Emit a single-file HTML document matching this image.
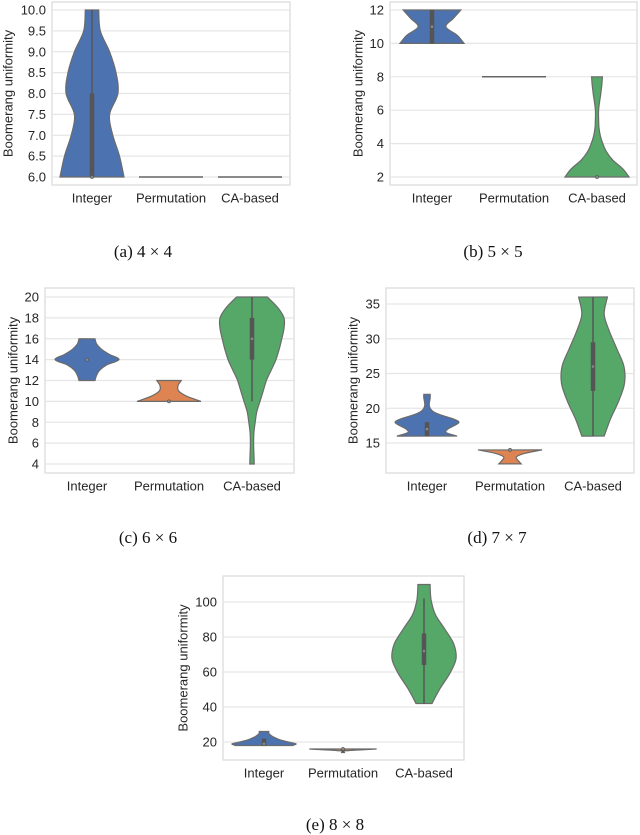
<!DOCTYPE html>
<html><head><meta charset="utf-8">
<style>
html,body{margin:0;padding:0;background:#fff;}
svg{display:block;font-family:"Liberation Sans",sans-serif;}
.cap{font-family:"Liberation Serif",serif;font-size:17px;fill:#111;}
</style></head>
<body>
<svg id="fig" width="640" height="835" viewBox="0 0 640 835"></svg>
<script>
// ---- data ----
const categories = ["Integer","Permutation","CA-based"];
const colors = ["#4c72b0","#dd8452","#55a868"];
// panel a (4x4)
const aTicks = [6.0,6.5,7.0,7.5,8.0,8.5,9.0,9.5,10.0];
const aRange = [[6,10],[6,6],[6,6]];
const aDens = [[1,.86,.65,.55,.81,.75,.55,.26,.21],[1],[1]];
const aBox = [[6,8,6,10,6],[6,6,6,6,6],[6,6,6,6,6]];
// panel b (5x5)
const bTicks = [2,4,6,8,10,12];
const bRange = [[10,12],[8,8],[2,8]];
const bDens = [[1,.78,.43,.67,.9],[1],[1,.8,.5,.3,.18,.1,.06,.05,.05,.08,.12,.15,.17]];
const bBox = [[10,12,10,12,11],[8,8,8,8,8],[2,2,2,2,2]];
// panel c (6x6)
const cTicks = [4,6,8,10,12,14,16,18,20];
const cRange = [[12,16],[10,12],[4,20]];
const cDens = [[.25,.3,.4,.62,1,.7,.45,.3,.25],[1,.55,.3,.28,.38],[.07,.06,.05,.06,.1,.15,.25,.35,.45,.6,.75,.85,.93,1,1,.8,.48]];
const cBox = [[14,14,14,14,14],[10,10,10,10,10],[14,18,10,20,16]];
// panel d (7x7)
const dTicks = [15,20,25,30,35];
const dRange = [[16,22],[12,14],[16,36]];
const dDens = [[.94,.6,.65,.85,1,.8,.45,.2,.1,.07,.08,.1,.1],[.35,.25,.2,.45,1],[.35,.55,.8,.98,.97,.75,.52,.35,.45]];
const dBox = [[16,18,16,18,17],[14,14,14,14,14],[22.5,29.5,16,36,26]];
// panel e (8x8)
const eTicks = [20,40,60,80,100];
const eRange = [[18,26],[14,16],[42,110]];
const eDens = [[.9,1,.75,.55,.4,.28,.2,.15,.15],[.05,.08,1.05],[.25,.5,.8,1,.93,.65,.35,.22,.19]];
const eBox = [[18,22,18,22,19],[15,16,14,16,16],[64,82,42,102,72]];

// ---- layout ----
const panels = [
 {id:"a",cap:"(a) 4 \u00d7 4",ticks:aTicks,range:aRange,dens:aDens,box:aBox,fx:[52,290],fy:[2,185],t0:177,t1:10,cx:[92,171,250],lab:198,titleX:8,capX:143,capY:257,dec:1},
 {id:"b",cap:"(b) 5 \u00d7 5",ticks:bTicks,range:bRange,dens:bDens,box:bBox,fx:[390,637],fy:[2,185],t0:177,t1:10,cx:[432,514,597],lab:198,titleX:358,capX:493,capY:257,dec:0},
 {id:"c",cap:"(c) 6 \u00d7 6",ticks:cTicks,range:cRange,dens:cDens,box:cBox,fx:[45,294],fy:[288,473],t0:464,t1:297,cx:[87,169,252],lab:486,titleX:13,capX:148,capY:543,dec:0},
 {id:"d",cap:"(d) 7 \u00d7 7",ticks:dTicks,range:dRange,dens:dDens,box:dBox,fx:[386,634],fy:[288,473],t0:443,t1:304,cx:[427,510,593],lab:486,titleX:353,capX:497,capY:543,dec:0},
 {id:"e",cap:"(e) 8 \u00d7 8",ticks:eTicks,range:eRange,dens:eDens,box:eBox,fx:[223,464],fy:[576,760],t0:742,t1:602,cx:[264,343,424],lab:773,titleX:183,capX:335,capY:830,dec:0}
];
const NS="http://www.w3.org/2000/svg";
const svg=document.getElementById("fig");
function mk(tag,attrs,parent){const e=document.createElementNS(NS,tag);for(const k in attrs)e.setAttribute(k,attrs[k]);(parent||svg).appendChild(e);return e;}
const HALF=32;

function smoothPath(pts){
  let d="";
  for(let i=0;i<pts.length-1;i++){
    const p0=pts[Math.max(i-1,0)],p1=pts[i],p2=pts[i+1],p3=pts[Math.min(i+2,pts.length-1)];
    const c1=[p1[0]+(p2[0]-p0[0])/6,p1[1]+(p2[1]-p0[1])/6];
    const c2=[p2[0]-(p3[0]-p1[0])/6,p2[1]-(p3[1]-p1[1])/6];
    d+=` C${c1[0].toFixed(1)},${c1[1].toFixed(1)} ${c2[0].toFixed(1)},${c2[1].toFixed(1)} ${p2[0].toFixed(1)},${p2[1].toFixed(1)}`;
  }
  return d;
}

panels.forEach(P=>{
  const g=mk("g",{});
  
  
  const tmin=P.ticks[0],tmax=P.ticks[P.ticks.length-1];
  const y=v=>P.t0+(v-tmin)/(tmax-tmin)*(P.t1-P.t0);
  const fr=mk("rect",{x:P.fx[0],y:P.fy[0],width:P.fx[1]-P.fx[0],height:P.fy[1]-P.fy[0],fill:"#fff",stroke:"#d9d9d9","stroke-width":1.2},g);
  
  
  P.ticks.forEach(t=>{
    const ln=mk("line",{x1:P.fx[0],x2:P.fx[1],y1:y(t),y2:y(t),stroke:"#e6e6e6","stroke-width":1.2},g);
    
    
    const tx=mk("text",{x:P.fx[0]-6,y:y(t)+4.5,"text-anchor":"end","font-size":13,fill:"#262626"},g);
    
    
    tx.textContent=t.toFixed(P.dec);
  });
  const ttl=mk("text",{x:P.titleX,y:(P.fy[0]+P.fy[1])/2,"text-anchor":"middle","font-size":13,fill:"#262626",transform:`rotate(-90 ${P.titleX} ${(P.fy[0]+P.fy[1])/2}) translate(0 4.5)`},g);
  
  
  ttl.textContent="Boomerang uniformity";
  categories.forEach((c,i)=>{
    const cx=P.cx[i];
    const [lo,hi]=P.range[i];const dn=P.dens[i];
    const flat=(lo===hi);
    if(flat){
      const ln=mk("line",{x1:cx-HALF*dn[0],x2:cx+HALF*dn[0],y1:y(lo),y2:y(lo),stroke:"#666","stroke-width":1.5},g);
      
      
    } else {
      const n=dn.length;
      const right=dn.map((w,k)=>[cx+HALF*w,y(lo+(hi-lo)*k/(n-1))]);
      const left=dn.map((w,k)=>[cx-HALF*w,y(lo+(hi-lo)*k/(n-1))]).reverse();
      let d=`M${right[0][0]},${right[0][1]}`+smoothPath(right)+` L${left[0][0]},${left[0][1]}`+smoothPath(left)+" Z";
      const p=mk("path",{d:d,fill:colors[i],stroke:"#6b6b6b","stroke-width":1.2},g);
      
      
    }
    const [q1,q3,w0,w1,med]=P.box[i];
    if(w1>w0){
      const wl=mk("line",{x1:cx,x2:cx,y1:y(w0),y2:y(w1),stroke:"#555","stroke-width":1.5},g);
      
      
    }
    if(q3>q1){
      const bx=mk("line",{x1:cx,x2:cx,y1:y(q1),y2:y(q3),stroke:"#555","stroke-width":4.5},g);
      
      
    }
    if(!flat){
      const md=mk("circle",{cx:cx,cy:y(med),r:1.6,fill:"#888",stroke:"#555","stroke-width":0.6},g);
      
      
    }
    const xl=mk("text",{x:cx,y:P.lab+4.5,"text-anchor":"middle","font-size":13,fill:"#262626"},g);
    
    
    xl.textContent=c;
  });
  const cp=mk("text",{x:P.capX,y:P.capY,"text-anchor":"middle",class:"cap"},g);
  
  
  cp.textContent=P.cap;
});
</script>
</body></html>
